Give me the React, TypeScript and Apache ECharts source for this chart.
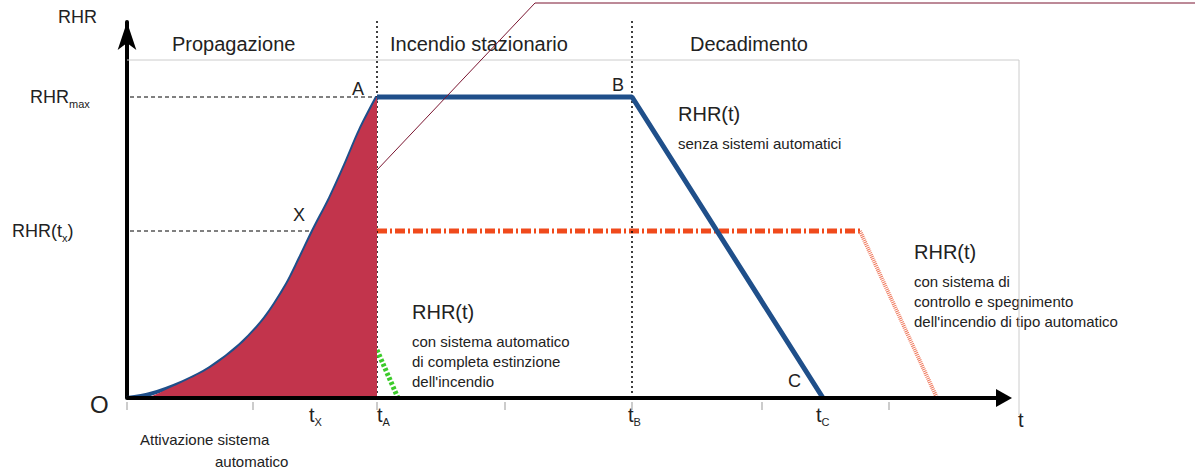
import React, { useEffect, useRef } from "react";
import * as echarts from "echarts";

// pixel-derived data: x = px-127, y = 398-py
const curveX = [0, 23, 56, 83, 113, 138, 160, 173, 186, 203, 218, 233, 250];
const curveY = [0, 4, 16, 30, 53, 80, 114, 140, 167, 200, 233, 268, 301];
const fillX = [23, 56, 83, 113, 138, 160, 173, 186, 203, 218, 233, 250];
const fillY = [1, 16, 30, 53, 80, 114, 140, 167, 200, 233, 268, 301];
const plateauX = [250, 505, 696];
const plateauY = [301, 301, 0];
const orangeX = [250, 733];
const orangeY = [167, 167];
const orangeDropX = [733, 810];
const orangeDropY = [167, 0];
const greenX = [250, 271];
const greenY = [48, 0];
const xTicks = [0, 126, 250, 378, 505, 635, 762];
const yTicks = [0, 38, 75, 113, 151, 188, 226, 264, 301, 339];

const pair = (xs: number[], ys: number[]) => xs.map((x, i) => [x, ys[i]]);

export default function App() {
  const ref = useRef<HTMLDivElement>(null);
  useEffect(() => {
    const chart = echarts.init(ref.current!, undefined, { renderer: "svg" });
    const font = "Liberation Sans";
    const txt = (x: number, y: number, text: string, size = 16, extra: any = {}) => ({
      type: "text", x, y, style: { text, font: `${size}px ${font}`, fill: "#222", ...extra },
    });
    const sub = (x: number, y: number, main: string, s: string, size = 18, tail = "") => ({
      type: "text", x, y,
      style: {
        text: `{m|${main}}{s|${s}}` + (tail ? `{m|${tail}}` : ""),
        rich: {
          m: { fontSize: size, fontFamily: font, fill: "#222", height: size + 4 },
          s: { fontSize: 11, fontFamily: font, fill: "#222", padding: [14, 0, 0, 0] },
        },
      },
    });
    const line = (xs: number[], ys: number[], color: string, width: number, type: any = "solid", z = 3, smooth: any = false) => ({
      type: "line", data: pair(xs, ys), symbol: "none", clip: false, z, silent: true, smooth,
      lineStyle: { color, width, type },
    });
    chart.setOption({
      animation: false,
      grid: { left: 127, right: 0, top: 22, bottom: 76 },
      xAxis: {
        type: "value", min: 0, max: 1068, splitLine: { show: false }, axisLabel: { show: false },
        axisTick: { show: false }, axisLine: { show: false },
      },
      yAxis: {
        type: "value", min: 0, max: 376, splitLine: { show: false }, axisLabel: { show: false },
        axisTick: { show: false },
        axisLine: { show: true, symbol: ["none", "arrow"], symbolSize: [14, 28], lineStyle: { color: "#000", width: 4 } },
      },
      series: [
        { type: "line", data: pair(fillX, fillY), symbol: "none", smooth: 0.3, lineStyle: { width: 0 }, areaStyle: { color: "#c2344c", opacity: 1 }, z: 4, silent: true },
        line(curveX, curveY, "#1f4f8a", 4, "solid", 3, 0.3),
        line(plateauX, plateauY, "#1f4f8a", 5, "solid", 3),
        line(orangeX, orangeY, "#f04a1c", 5, [10, 3, 2, 3], 2),
        line(orangeDropX, orangeDropY, "#f07a5e", 4, [1, 1], 2),
        line(greenX, greenY, "#3ccb2a", 5, [3, 2], 3),
        line([0, 870], [0, 0], "#000", 4, "solid", 6),
        line([-4, 250], [301, 301], "#000", 1, [4, 3], 2),
        line([-4, 183], [167, 167], "#000", 1, [4, 3], 2),
        line([250, 250], [0, 378], "#000", 1.5, [2, 3], 2),
        line([505, 505], [0, 378], "#000", 1.5, [2, 3], 2),
        line([250, 408, 1068], [228, 395, 395], "#7a1530", 1, "solid", 5),
        line([0, 892, 892], [338, 338, -17], "#ccc", 1, "solid", 1),
        ...xTicks.map((v) => line([v, v], [-4, -12], "#999", 1, "solid", 1)),
        ...yTicks.map((v) => line([-6, -14], [v, v], "#999", 1, "solid", 1)),
      ],
      graphic: [
        { type: "polygon", z: 100, shape: { points: [[996, 389], [1012, 398], [996, 407]] }, style: { fill: "#000" } },
        txt(58, 8, "RHR", 18),
        txt(172, 34, "Propagazione", 20),
        txt(390, 34, "Incendio stazionario", 20),
        txt(690, 34, "Decadimento", 20),
        sub(30, 84, "RHR", "max"),
        sub(12, 218, "RHR(t", "x", 18, ")"),
        txt(90, 392, "O", 24),
        txt(352, 80, "A", 18),
        txt(612, 76, "B", 18),
        txt(293, 206, "X", 18),
        txt(788, 372, "C", 18),
        txt(1018, 410, "t", 20),
        sub(309, 402, "t", "X", 20),
        sub(377, 402, "t", "A", 20),
        sub(628, 402, "t", "B", 20),
        sub(816, 402, "t", "C", 20),
        txt(140, 432, "Attivazione sistema", 15),
        txt(215, 454, "automatico", 15),
        txt(678, 104, "RHR(t)", 20),
        txt(678, 136, "senza sistemi automatici", 15),
        txt(412, 302, "RHR(t)", 20),
        txt(412, 334, "con sistema automatico", 15),
        txt(412, 354, "di completa estinzione", 15),
        txt(412, 374, "dell'incendio", 15),
        txt(914, 242, "RHR(t)", 20),
        txt(914, 274, "con sistema di", 15),
        txt(914, 294, "controllo e spegnimento", 15),
        txt(914, 314, "dell'incendio di tipo automatico", 15),
      ],
    });
    return () => chart.dispose();
  }, []);
  return <div ref={ref} style={{ width: 1195, height: 474, position: "absolute", left: 0, top: 0, background: "#fff" }} />;
}
